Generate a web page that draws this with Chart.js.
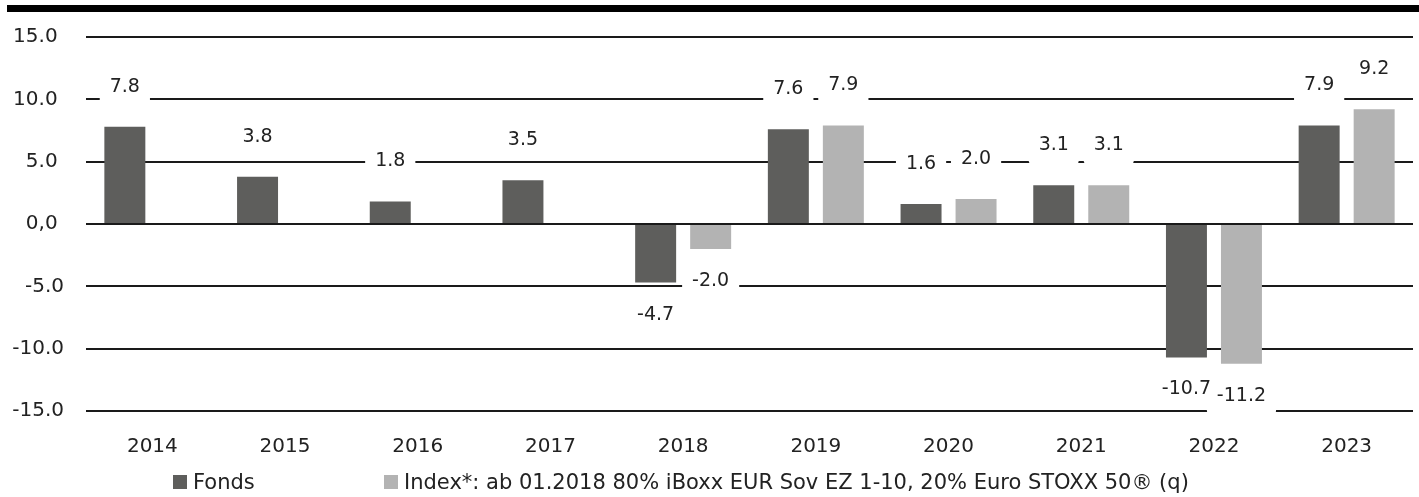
<!DOCTYPE html>
<html>
<head>
<meta charset="utf-8">
<script src="https://cdn.jsdelivr.net/npm/chart.js@4.4.0/dist/chart.umd.min.js"></script>
<style>
  body { margin: 0; background: #fff; }
  #wrap { position: relative; width: 1419px; height: 497px; }
  #perfChart { display: block; }
  #topRule { position: absolute; left: 7px; top: 5px; right: 0; height: 7px; background: #000; }
  .item { position: absolute; top: 470px; height: 24px; display: flex; align-items: center;
          white-space: nowrap; font: 21px "DejaVu Sans"; color: #222; }
  .box { width: 14px; height: 14px; margin-right: 6px; }
</style>
</head>
<body>
<div id="wrap">
  <canvas id="perfChart" width="1419" height="497"></canvas>
  <div id="topRule"></div>
  <div id="legend"></div>
</div>
<script>
const years = ['2014', '2015', '2016', '2017', '2018', '2019', '2020', '2021', '2022', '2023'];
const fondsValues = [7.8, 3.8, 1.8, 3.5, -4.7, 7.6, 1.6, 3.1, -10.7, 7.9];
const indexValues = [null, null, null, null, -2.0, 7.9, 2.0, 3.1, -11.2, 9.2];
const yTickValues = [15, 10, 5, 0, -5, -10, -15];
const yTickLabels = ['15.0', '10.0', '5.0', '0,0', '-5.0', '-10.0', '-15.0'];
const seriesNames = ['Fonds', 'Index*: ab 01.2018 80% iBoxx EUR Sov EZ 1-10, 20% Euro STOXX 50® (q)'];
const seriesColors = ['#5e5e5c', '#b3b3b3'];
const legendLeft = [173, 384];

const FONT = '"DejaVu Sans"';

// value labels on white boxes, they cut through the grid lines
const valueLabels = {
  id: 'valueLabels',
  afterDatasetsDraw(chart) {
    const ctx = chart.ctx;
    const items = [];
    chart.data.datasets.forEach((ds, i) => {
      chart.getDatasetMeta(i).data.forEach((bar, j) => {
        const v = ds.data[j];
        if (v === null) return;
        items.push({ x: bar.x, y: v >= 0 ? bar.y - 40 : bar.y + 32, text: v.toFixed(1) });
      });
    });
    ctx.save();
    ctx.font = '19px ' + FONT;
    ctx.fillStyle = '#fff';
    items.forEach(it => {
      const w = ctx.measureText(it.text).width + 20;
      ctx.beginPath();
      ctx.roundRect(it.x - w / 2, it.y - 20, w, 40, 5);
      ctx.fill();
    });
    ctx.fillStyle = '#222';
    ctx.textAlign = 'center';
    ctx.textBaseline = 'middle';
    items.forEach(it => ctx.fillText(it.text, it.x, it.y));
    ctx.restore();
  }
};

new Chart(document.getElementById('perfChart'), {
  type: 'bar',
  data: {
    labels: years,
    datasets: [
      { label: seriesNames[0], data: fondsValues, backgroundColor: seriesColors[0] },
      { label: seriesNames[1], data: indexValues, backgroundColor: seriesColors[1] }
    ]
  },
  options: {
    responsive: false,
    animation: false,
    categoryPercentage: 0.829,
    barPercentage: 0.745,
    layout: { padding: { top: 37, right: 6, bottom: 26, left: 0 } },
    plugins: { legend: { display: false }, tooltip: { enabled: false } },
    scales: {
      x: {
        grid: { display: false },
        border: { display: false },
        ticks: { color: '#222', font: { family: FONT, size: 20 }, padding: 16 },
        afterFit(s) { s.height = 60; }
      },
      y: {
        min: -15,
        max: 15,
        grid: { color: '#1a1a1a', lineWidth: 2, drawTicks: false },
        border: { display: false },
        ticks: {
          stepSize: 5,
          color: '#222',
          font: { family: FONT, size: 20 },
          padding: 22,
          callback(value) {
            const lbl = yTickLabels[yTickValues.indexOf(value)];
            return value >= 0 ? lbl + ' ' : lbl;
          }
        },
        afterFit(s) { s.width = 86; }
      }
    }
  },
  plugins: [valueLabels]
});

const legend = document.getElementById('legend');
seriesNames.forEach((name, i) => {
  const item = document.createElement('div');
  item.className = 'item';
  item.style.left = legendLeft[i] + 'px';
  const box = document.createElement('span');
  box.className = 'box';
  box.style.background = seriesColors[i];
  item.appendChild(box);
  item.appendChild(document.createTextNode(name));
  legend.appendChild(item);
});
</script>
</body>
</html>
